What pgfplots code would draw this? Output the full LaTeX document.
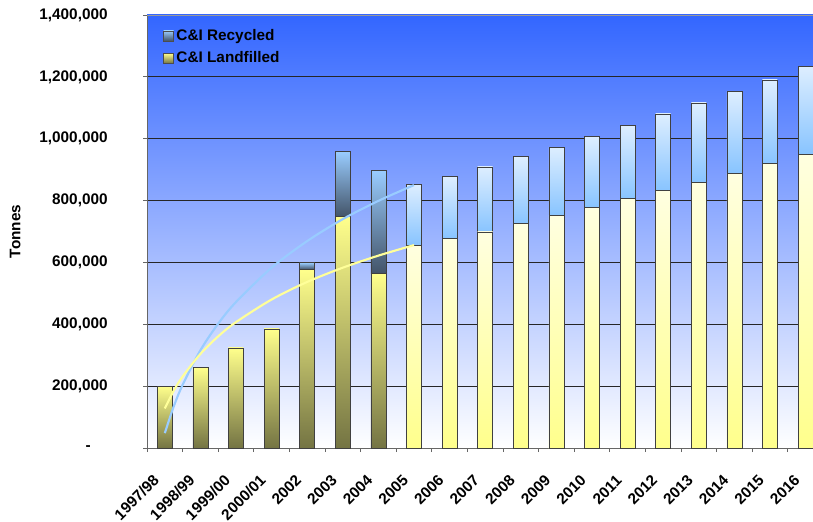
\documentclass[border=0pt]{standalone}
\usepackage{fontspec}
\setmainfont{Liberation Sans}
\usepackage{pgfplots}
\usepackage{pgfplotstable}
\pgfplotsset{compat=1.18}

\definecolor{bgtop}{HTML}{3366FF}
\definecolor{bgmid}{HTML}{B4BEFC}
\definecolor{landhi}{HTML}{FFFF8C}
\definecolor{landlo}{HTML}{747443}
\definecolor{rechi}{HTML}{99CCFF}
\definecolor{reclo}{HTML}{435468}
\definecolor{lyhi}{HTML}{FFFFE0}
\definecolor{lylo}{HTML}{FFFF8C}
\definecolor{lbhi}{HTML}{DDEEFF}
\definecolor{lblo}{HTML}{88C4FF}
\definecolor{trendblue}{HTML}{99CCFF}
\definecolor{trendyellow}{HTML}{FFFF99}

\newcommand{\lbl}{\fontsize{11.5}{13.8}\selectfont\bfseries}

% l = landfilled, r = recycled; 0-6 actual (dark bars), 7-18 projected (light bars)
\pgfplotstableread{
x  l      r
0  200000 0
1  260000 0
2  324000 0
3  385000 0
4  578000 21000
5  748000 210000
6  565000 332000
7  656000 197000
8  678000 199000
9  699000 210000
10 725000 217000
11 752000 221000
12 779000 229000
13 806000 238000
14 833000 247000
15 860000 256000
16 889000 264000
17 919000 271000
18 950000 283000
}\bars

\pgfplotsset{frame/.style={
  width=499.5pt, height=324.75pt, scale only axis,
  xmin=-0.5, xmax=18.21, ymin=0, ymax=1400000,
  at={(110.25pt,54.75pt)}, anchor=south west},
  barframe/.style={frame, hide axis, ybar stacked, bar width=11.25pt}}

\begin{document}
\begin{tikzpicture}
\useasboundingbox (0,0) rectangle (609.75pt,390.75pt);
% frame, background, grid, ticks and legend
\begin{axis}[frame,
  axis background/.style={top color=bgtop, middle color=bgmid, bottom color=white},
  axis lines*=left, axis line style={black!60, line width=0.6pt},
  ymajorgrids, grid style={black!85, line width=0.7pt},
  ytick={0,200000,...,1200000},
  yticklabels={{\makebox[16.5pt][l]{-}},{200,000},{400,000},{600,000},{800,000},{1,000,000},{1,200,000}},
  extra y ticks={1400000}, extra y tick labels={1{,}400{,}000},
  extra y tick style={grid=major, grid style={black!40, line width=0.7pt}},
  scaled y ticks=false,
  xtick={0,...,18},
  xticklabels={1997/98,1998/99,1999/00,2000/01,2002,2003,2004,2005,2006,2007,2008,2009,2010,2011,2012,2013,2014,2015,2016},
  minor xtick={-0.5,0.5,...,17.5},
  major x tick style={draw=none},
  tick align=outside, major tick length=3pt, minor tick length=3pt,
  tick style={black!60, line width=0.6pt},
  xticklabel style={xshift=-4pt, yshift=-17pt, rotate=45, anchor=east, font=\lbl},
  yticklabel style={font=\lbl}, yticklabel shift=23pt,
  ylabel={Tonnes}, ylabel style={font=\lbl, at={(axis description cs:-0.198,0.5)}, anchor=center},
  legend image code/.code={\draw[#1] (0pt,-3.75pt) rectangle (7.5pt,3.75pt);},
  legend style={draw=none, fill=none, at={(0.018,0.98)}, anchor=north west, font=\lbl, row sep=3pt},
  legend cell align=left]
\addlegendimage{draw=black!70, top color=rechi, bottom color=reclo}
\addlegendentry{C\&I Recycled}
\addlegendimage{draw=black!70, top color=landhi, bottom color=landlo}
\addlegendentry{C\&I Landfilled}
\end{axis}
% one stacked pair per year so that each bar gets its own gradient
\pgfplotsinvokeforeach{0,...,6}{
\begin{axis}[barframe]
\addplot[draw=black!75, top color=landhi, bottom color=landlo, restrict x to domain=#1:#1] table[x=x,y=l]{\bars};
\addplot[draw=black!75, top color=rechi, bottom color=reclo, restrict x to domain=#1:#1] table[x=x,y=r]{\bars};
\end{axis}
}
\pgfplotsinvokeforeach{7,...,18}{
\begin{axis}[barframe]
\addplot[draw=black!75, top color=lyhi, bottom color=lylo, restrict x to domain=#1:#1] table[x=x,y=l]{\bars};
\addplot[draw=black!75, top color=lbhi, bottom color=lblo, restrict x to domain=#1:#1] table[x=x,y=r]{\bars};
\end{axis}
}
% logarithmic trend lines
\begin{axis}[frame, hide axis]
\addplot[smooth, color=trendblue, line width=1.6pt] coordinates {
(0,48000) (0.25,134000) (0.5,204000) (1,316000) (1.5,402000) (2,472000)
(3,583000) (4,669000) (5,740000) (6,799000) (7,850000)};
\addplot[smooth, color=trendyellow, line width=1.6pt] coordinates {
(0,128000) (0.25,185000) (0.5,231000) (1,304000) (1.5,361000) (2,407000)
(3,480000) (4,537000) (5,583000) (6,622000) (7,656000)};
\end{axis}
\end{tikzpicture}
\end{document}
